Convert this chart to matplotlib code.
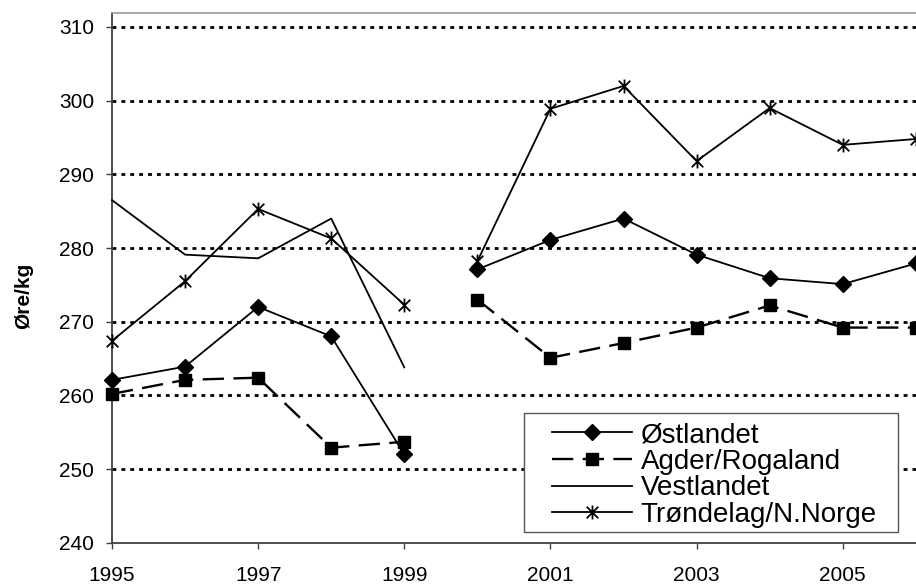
import numpy as np
import matplotlib
matplotlib.use("Agg")
import matplotlib.pyplot as plt
from matplotlib.path import Path
from matplotlib.patches import Rectangle

plt.rcParams['font.family'] = ['Liberation Sans', 'DejaVu Sans']

years = [1995, 1996, 1997, 1998, 1999, 2000, 2001, 2002, 2003, 2004, 2005, 2006]
ostlandet = [262.1, 263.9, 272.0, 268.0, 252.0, 277.1, 281.1, 284.0, 279.1, 275.9, 275.1, 277.9]
agder = [260.2, 262.1, 262.4, 252.9, 253.7, 273.0, 265.1, 267.1, 269.2, 272.2, 269.2, 269.2]
vestlandet = [286.5, 279.1, 278.6, 284.0, 263.8, np.nan, np.nan, np.nan, np.nan, np.nan, np.nan, np.nan]
trondelag = [267.4, 275.5, 285.3, 281.3, 272.3, 278.2, 298.9, 302.0, 291.8, 299.0, 294.0, 294.8]
labels = ['Østlandet', 'Agder/Rogaland', 'Vestlandet', 'Trøndelag/N.Norge']
yticks = [240, 250, 260, 270, 280, 290, 300, 310]
xticks = [1995, 1997, 1999, 2001, 2003, 2005]

star = Path([(-1, -1), (1, 1), (-1, 1), (1, -1), (0, -1.2), (0, 1.2)],
            [Path.MOVETO, Path.LINETO, Path.MOVETO, Path.LINETO, Path.MOVETO, Path.LINETO])

fig = plt.figure(figsize=(9.16, 5.85), dpi=100)
ax = fig.add_axes([112/916, 42.3/585, 806/916, 529.7/585])

styles = [
    dict(color='black', lw=1.3, ls='-', marker='D', ms=8, mfc='black', mec='black'),
    dict(color='black', lw=1.7, ls=(0, (9, 4)), marker='s', ms=8, mfc='black', mec='black'),
    dict(color='black', lw=1.3, ls='-', marker=None),
    dict(color='black', lw=1.3, ls='-', marker=star, ms=10, mfc='none', mec='black', mew=1.3),
]
series = [ostlandet, agder, vestlandet, trondelag]
x = np.array(years)
handles = []
for s, st, lab in zip(series, styles, labels):
    y = np.array(s, dtype=float)
    h, = ax.plot(x[:5], y[:5], label=lab, zorder=3, clip_on=False, **st)
    ax.plot(x[5:], y[5:], zorder=3, clip_on=False, **st)
    handles.append(h)

for yv in yticks[1:]:
    ax.axhline(yv, color='black', lw=2.0, ls=(0, (1.4, 1.8)), zorder=1)

ax.set_xlim(1995, 2006.03)
ax.set_ylim(240, 311.9)
ax.set_yticks(yticks)
ax.set_xticks(xticks)
ax.tick_params(axis='both', labelsize=15, length=4, width=1, direction='out', color='#404040')
ax.tick_params(axis='x', pad=13)
ax.tick_params(axis='y', pad=9)
ax.spines['right'].set_visible(False)
ax.spines['top'].set_color('#999999')
ax.spines['top'].set_linewidth(1.2)
ax.spines['left'].set_color('#404040')
ax.spines['left'].set_linewidth(1.3)
ax.spines['bottom'].set_color('#404040')
ax.spines['bottom'].set_linewidth(1.3)
ax.set_ylabel('Øre/kg', fontsize=15, fontweight='bold', labelpad=0)
ax.yaxis.set_label_coords(-0.098, 0.466)

frame = Rectangle((0.511, 0.020), 0.464, 0.225, transform=ax.transAxes,
                  facecolor='white', edgecolor='#555555', lw=1.0, zorder=4, clip_on=False)
ax.add_patch(frame)

leg = ax.legend(handles=handles, loc='upper left', bbox_to_anchor=(0.5455, 0.2275),
                borderaxespad=0, fontsize=20, frameon=False,
                handlelength=2.9, handletextpad=0.3,
                labelspacing=0.02, borderpad=0)
leg.set_zorder(5)

fig.savefig('out.png', dpi=100)
